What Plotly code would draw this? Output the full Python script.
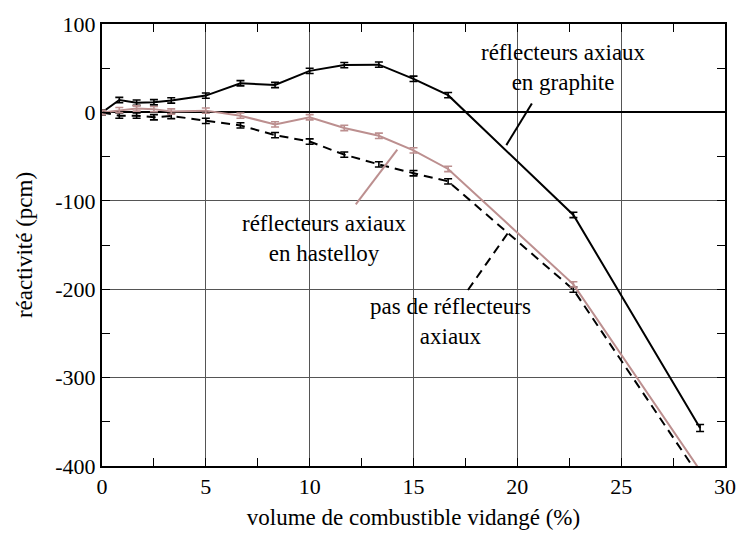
import plotly.graph_objects as go

# volume de combustible vidangé (%)
volume = [0, 0.833, 1.667, 2.5, 3.333, 5, 6.667, 8.333, 10, 11.667, 13.333, 15, 16.667, 22.7, 28.8]

# réactivité (pcm)
graphite = [0, 14, 11, 11.5, 13.5, 19, 33, 31, 47, 53.5, 54, 38, 19.5, -116, -357]
graphite_err = [2.5, 3, 3, 3, 3, 3, 3, 3, 3, 3, 3, 3, 3, 3, 4]
hastelloy = [0, 2.6, 4.4, 3.7, 1, 2, -3.7, -13.6, -5.5, -17.6, -26.5, -43, -64, -194.5, -405]
hastelloy_err = [2.5, 3, 3, 3, 3, 3, 3, 3, 3, 3, 3, 3, 3, 3, 3]
sans_refl = [0, -3.7, -3.7, -5.5, -4, -9.6, -14.7, -25.7, -33, -47.8, -58.8, -68.8, -78, -200.5, -413]
sans_refl_err = [2.5, 3, 3, 3, 3, 3, 3, 3, 3, 3, 3, 3, 3, 3, 3]

x_ticks = [0, 5, 10, 15, 20, 25, 30]
y_ticks = [-400, -300, -200, -100, 0, 100]
y_ticktext = ["-400", "-300", "-200", "-100", "0", "100"]

FONT = "Liberation Serif"
PINK = "#bc8f8f"

fig = go.Figure()

fig.add_trace(go.Scatter(
    x=volume, y=sans_refl, mode="lines",
    line=dict(color="black", width=2, dash="9px,6px"),
    error_y=dict(type="data", array=sans_refl_err, color="black", thickness=1.6, width=4),
    name="pas de réflecteurs axiaux",
))
fig.add_trace(go.Scatter(
    x=volume, y=graphite, mode="lines",
    line=dict(color="black", width=2),
    error_y=dict(type="data", array=graphite_err, color="black", thickness=1.6, width=4),
    name="réflecteurs axiaux en graphite",
))
fig.add_trace(go.Scatter(
    x=volume, y=hastelloy, mode="lines",
    line=dict(color=PINK, width=2),
    error_y=dict(type="data", array=hastelloy_err, color=PINK, thickness=1.6, width=4),
    name="réflecteurs axiaux en hastelloy",
))

# pointer lines for the labels
fig.add_shape(type="line", x0=20.7, y0=10, x1=19.47, y1=-37,
              line=dict(color="black", width=2))
fig.add_shape(type="line", x0=14.22, y0=-42, x1=12.22, y1=-104,
              line=dict(color=PINK, width=2))
fig.add_shape(type="line", x0=19.53, y0=-137, x1=17.56, y1=-203,
              line=dict(color="black", width=2, dash="9px,6px"))

label_font = dict(family=FONT, size=23, color="black")
fig.add_annotation(x=22.2, y=51, text="réflecteurs axiaux<br>en graphite",
                   showarrow=False, font=label_font)
fig.add_annotation(x=10.7, y=-143, text="réflecteurs axiaux<br>en hastelloy",
                   showarrow=False, font=label_font)
fig.add_annotation(x=16.8, y=-236, text="pas de réflecteurs<br>axiaux",
                   showarrow=False, font=label_font)

axis_common = dict(
    showline=True, linecolor="black", linewidth=2, mirror="allticks",
    ticks="inside", ticklen=8, tickcolor="black", tickwidth=1,
    showgrid=True, gridcolor="#555555", gridwidth=1,
    tickfont=dict(family=FONT, size=22, color="black"),
)

fig.update_layout(
    width=748, height=538,
    margin=dict(l=102, r=14, t=15, b=66),
    paper_bgcolor="white", plot_bgcolor="white",
    showlegend=False,
    font=dict(family=FONT, color="black"),
    xaxis=dict(
        range=[0, 30], tickvals=x_ticks,
        minor=dict(dtick=2.5, ticks="inside", ticklen=8, tickcolor="black", showgrid=False),
        zeroline=False,
        title=dict(text="volume de combustible vidangé (%)", font=dict(family=FONT, size=23), standoff=10),
        **axis_common,
    ),
    yaxis=dict(
        range=[-400, 100], tickvals=y_ticks, ticktext=y_ticktext,
        minor=dict(dtick=50, ticks="inside", ticklen=8, tickcolor="black", showgrid=False),
        zeroline=True, zerolinecolor="black", zerolinewidth=2,
        title=dict(text="réactivité (pcm)", font=dict(family=FONT, size=23), standoff=16),
        **axis_common,
    ),
)

# drop the default 8px page margin so the figure fills the window
fig.write_html("out.html", config={"displayModeBar": False},
               post_script="document.body.style.margin='0';")
